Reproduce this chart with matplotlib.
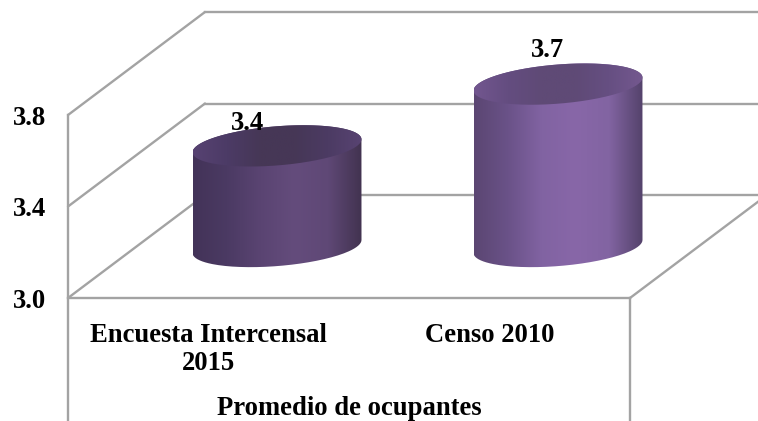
import numpy as np
import matplotlib
matplotlib.use("Agg")
import matplotlib.pyplot as plt
from matplotlib.colors import LinearSegmentedColormap
from matplotlib.patches import PathPatch
from matplotlib.path import Path

categories = ["Encuesta Intercensal\n2015", "Censo 2010"]
values = [3.44, 3.71]
value_labels = ["3.4", "3.7"]
y_ticks = [3.0, 3.4, 3.8]
group_label = "Promedio de ocupantes"
side_colors = [
    ["#433358", "#4b3a63", "#5a4472", "#644c7c", "#5f4876", "#423350"],
    ["#5b4672", "#6a5288", "#8163a2", "#8867a8", "#8264a2", "#54426b"],
]
top_colors = [
    ["#574272", "#4c3b66", "#463756", "#463756", "#4c3b63", "#584372"],
    ["#72568f", "#644d80", "#5f4a76", "#5f4a76", "#664f82", "#74588f"],
]
label_offsets = [(-29, 3), (-10, 14)]

W, H = 758, 421
PX_X = 281.0     # pixels per category
PX_Y = 228.75    # pixels per value unit
X0, Y0 = 68.0, 298.0
DEPTH_X, DEPTH_Y = 137.0 / PX_X, 103.0 / PX_Y
FS = 19.2

plt.rcParams["font.family"] = ["Liberation Serif", "DejaVu Serif"]
fig = plt.figure(figsize=(W / 100, H / 100), dpi=100, facecolor="white")
ax = fig.add_axes([0, 0, 1, 1])
xlim = (-X0 / PX_X, (W - X0) / PX_X)
ylim = (3.0 - (H - Y0) / PX_Y, 3.0 + Y0 / PX_Y)
ax.axis("off")

GRID = "#a3a3a3"
LW = 1.7
x_end = xlim[1]
n_cat = len(categories)
for v in y_ticks:
    ax.plot([0, DEPTH_X], [v, v + DEPTH_Y], color=GRID, lw=LW, zorder=1, solid_capstyle="round")
    ax.plot([DEPTH_X, x_end], [v + DEPTH_Y] * 2, color=GRID, lw=LW, zorder=1)
    ax.text(-22 / PX_X, v, f"{v:.1f}", ha="right", va="center_baseline",
            fontsize=FS, fontweight="bold", color="black")

ax.plot([0, 0], [ylim[0], y_ticks[-1]], color=GRID, lw=LW, zorder=1)
ax.plot([0, n_cat], [3.0, 3.0], color=GRID, lw=LW, zorder=1)
ax.plot([n_cat, n_cat], [ylim[0], 3.0], color=GRID, lw=LW, zorder=1)
ax.plot([n_cat, n_cat + DEPTH_X], [3.0, 3.0 + DEPTH_Y], color=GRID, lw=LW, zorder=1)

rx = 0.3007
tilt = 6.5 / PX_Y
ry = 19.6 / PX_Y
t = np.linspace(0, 2 * np.pi, 181)
t_up = np.linspace(0, np.pi, 91)
t_lo = np.linspace(np.pi, 2 * np.pi, 91)


def ell(cx, cy, tt):
    return np.column_stack([cx + rx * np.cos(tt), cy + tilt * np.cos(tt) + ry * np.sin(tt)])


def grad(colors, extent, clip, z):
    cmap = LinearSegmentedColormap.from_list("c", colors)
    im = ax.imshow(np.linspace(0, 1, 256)[None, :], cmap=cmap, extent=extent,
                   aspect="auto", origin="lower", zorder=z, interpolation="bilinear")
    patch = PathPatch(clip, transform=ax.transData, fc="none", ec="none")
    ax.add_patch(patch)
    im.set_clip_path(patch)


for i, v in enumerate(values):
    cx = i + 0.5 + DEPTH_X / 2
    base = 3.0 + DEPTH_Y / 2
    top = v + DEPTH_Y / 2
    body = np.vstack([ell(cx, base, t_lo), ell(cx, top, t_up)])
    pad = 0.15
    grad(side_colors[i], (cx - rx, cx + rx, base - pad, top + pad), Path(np.vstack([body, body[0]])), 3)
    grad(top_colors[i], (cx - rx, cx + rx, top - pad, top + pad), Path(ell(cx, top, t)), 4)
    ax.annotate(value_labels[i], (cx, top + ry), xytext=label_offsets[i], textcoords="offset pixels",
                ha="center", va="center", fontsize=FS, fontweight="bold", zorder=5, color="black")
    ax.text(i + 0.5, 3.0 - 25 / PX_Y, categories[i], ha="center", va="top", fontsize=FS,
            fontweight="bold", linespacing=1.15, color="black")

ax.text(n_cat / 2, 3.0 - 110.5 / PX_Y, group_label, ha="center", va="center", fontsize=FS,
        fontweight="bold", color="black")

ax.set_xlim(*xlim)
ax.set_ylim(*ylim)
fig.savefig("out.png", dpi=100, facecolor="white")
